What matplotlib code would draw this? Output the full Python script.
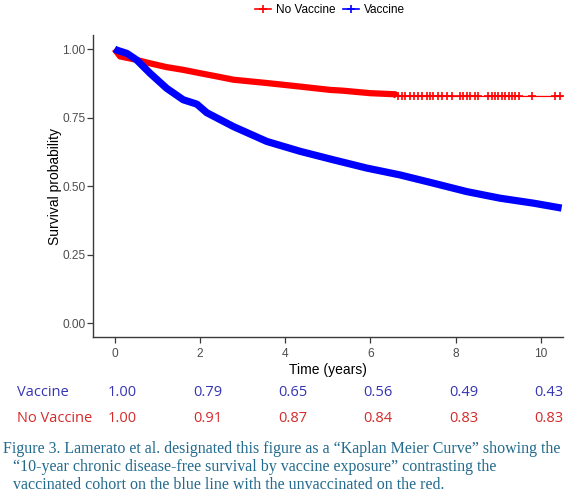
import numpy as np
import matplotlib
matplotlib.use("Agg")
import matplotlib.pyplot as plt
from matplotlib.lines import Line2D
import matplotlib.transforms as mtransforms

# --- values ---
vax_t = [0, 0.05, 0.29, 0.52, 0.83, 1.22, 1.61, 1.93, 2.16, 2.79, 3.57, 4.35,
         5.13, 5.91, 6.69, 7.47, 8.26, 9.04, 9.82, 10.48]
vax_s = [1.0, 0.996, 0.984, 0.96, 0.912, 0.857, 0.815, 0.799, 0.768, 0.717, 0.663,
         0.627, 0.596, 0.566, 0.541, 0.511, 0.48, 0.456, 0.438, 0.42]

novax_t = [0, 0.13, 0.44, 0.83, 1.22, 1.61, 2.0, 2.40, 2.79, 3.57, 4.35, 5.05,
           5.36, 5.99, 6.58, 6.62, 10.52]
novax_s = [1.0, 0.973, 0.963, 0.948, 0.934, 0.924, 0.912, 0.90, 0.888, 0.876,
           0.863, 0.851, 0.848, 0.839, 0.835, 0.827, 0.827]

# sparse censor marks on the red curve (dense part shows up as a solid band)
novax_cens = [6.65, 6.73, 6.81, 6.93, 7.01, 7.12, 7.20, 7.32, 7.40, 7.47, 7.59,
              7.67, 7.79, 7.91, 8.10, 8.18, 8.26, 8.34, 8.45, 8.53, 8.76, 8.84,
              8.92, 9.00, 9.08, 9.16, 9.24, 9.31, 9.39, 9.47, 9.78, 10.33, 10.45]
novax_dense_end = 6.62

table_times = [0, 2, 4, 6, 8, 10]
table_vax = ["1.00", "0.79", "0.65", "0.56", "0.49", "0.43"]
table_novax = ["1.00", "0.91", "0.87", "0.84", "0.83", "0.83"]

caption = [
    "Figure 3. Lamerato et al. designated this figure as a \u201cKaplan Meier Curve\u201d showing the",
    "\u201c10-year chronic disease-free survival by vaccine exposure\u201d contrasting the",
    "vaccinated cohort on the blue line with the unvaccinated on the red.",
]

RED = "#ff0000"
BLUE = "#0000ff"
AXCOL = "#3a3a3a"
TICKCOL = "#4d4d4d"

W, H = 569, 500
fig = plt.figure(figsize=(W / 100, H / 100), dpi=100)
ax = fig.add_axes([93.2 / W, 1 - 337 / H, (563.3 - 93.2) / W, (337 - 35.3) / H])

nt = np.array(novax_t)
ns = np.array(novax_s)
dense = nt <= novax_dense_end

# red: thin line + thick band for the dense censor region + sparse marks
ax.plot(nt, ns, color=RED, lw=0.9, solid_capstyle="butt")
ax.plot(nt[dense], ns[dense], color=RED, lw=4.5, solid_capstyle="butt")
ax.plot(novax_cens, np.interp(novax_cens, nt, ns), ls="none", marker="+",
        ms=5.5, mew=1.2, color=RED)

# blue: dense all the way
ax.plot(vax_t, vax_s, color=BLUE, lw=5.2, solid_capstyle="butt")

ax.set_xlim(-0.5, 10.52)
ax.set_ylim(-0.05, 1.05)
ax.set_xticks([0, 2, 4, 6, 8, 10])
ax.set_yticks([0, 0.25, 0.5, 0.75, 1.0])
ax.set_yticklabels(["0.00", "0.25", "0.50", "0.75", "1.00"])

for side in ["top", "right"]:
    ax.spines[side].set_visible(False)
for side in ["left", "bottom"]:
    ax.spines[side].set_color(AXCOL)
    ax.spines[side].set_linewidth(1.0)

ax.tick_params(axis="both", colors=AXCOL, length=4, width=0.9, labelsize=8.6,
               labelcolor=TICKCOL)
ax.tick_params(axis="x", pad=4)
ax.tick_params(axis="y", pad=1.5)
for lab in ax.get_xticklabels() + ax.get_yticklabels():
    lab.set_family("Liberation Sans")

ax.set_xlabel("Time (years)", family="Liberation Sans", fontsize=10, color="black", labelpad=2)
ax.set_ylabel("Survival probability", family="Liberation Sans", fontsize=10, color="black", labelpad=0.5)

# legend above the panel
handles = [Line2D([], [], color=RED, marker="+", ms=6, mew=1.2, lw=1.2),
           Line2D([], [], color=BLUE, marker="+", ms=6, mew=1.2, lw=1.2)]
fig.legend(handles, ["No Vaccine", "Vaccine"], loc="center",
           bbox_to_anchor=(330 / W, 1 - 10 / H), ncol=2, frameon=False,
           prop={"family": "Liberation Sans", "size": 8.5},
           handlelength=1.4, handletextpad=0.4, columnspacing=0.6)

# numbers-at-time table below the axis
trans = mtransforms.blended_transform_factory(ax.transData, fig.transFigure)
fig.text(17 / W, 1 - 395.7 / H, "Vaccine", color="#3535b5", family="Open Sans",
         fontsize=10.5, va="baseline", ha="left")
fig.text(17 / W, 1 - 421.7 / H, "No Vaccine", color="#d42a2a", family="Open Sans",
         fontsize=10.5, va="baseline", ha="left")
for t, v, n in zip(table_times, table_vax, table_novax):
    fig.text(t + 0.18, 1 - 395.7 / H, v, transform=trans, color="#3535b5",
             family="Open Sans", fontsize=10.5, va="baseline", ha="center")
    fig.text(t + 0.18, 1 - 421.7 / H, n, transform=trans, color="#d42a2a",
             family="Open Sans", fontsize=10.5, va="baseline", ha="center")

# caption
cap_y = [452.7, 470.7, 488.7]
cap_x = [3, 13, 13]
for line, x, y in zip(caption, cap_x, cap_y):
    fig.text(x / W, 1 - y / H, line, color="#236b8e", family="Liberation Serif",
             fontsize=11.5, va="baseline", ha="left")

fig.savefig("out.png", dpi=100)
